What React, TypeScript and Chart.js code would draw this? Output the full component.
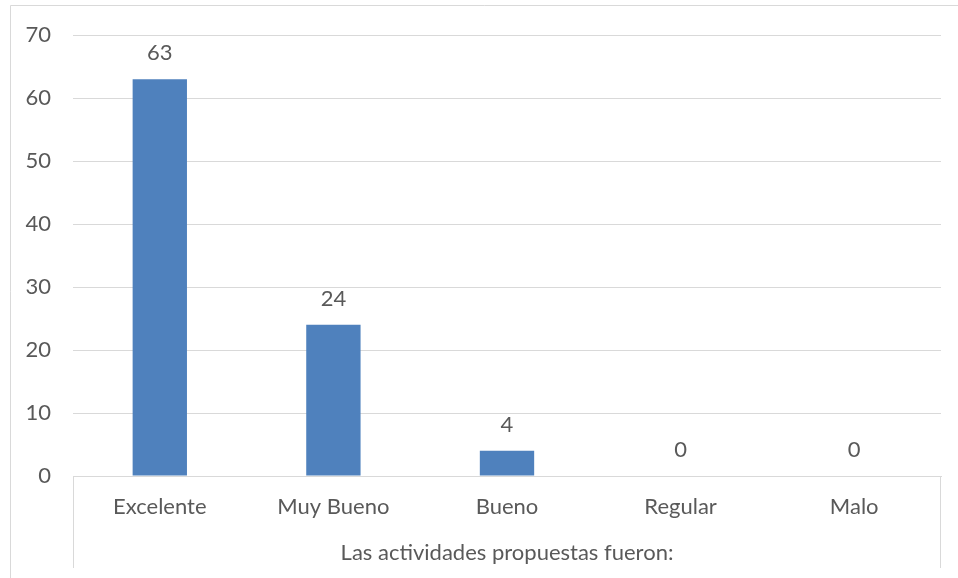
import React, { useEffect, useRef } from "react";
import { Chart, registerables } from "chart.js";

Chart.register(...registerables);

const categories = ["Excelente", "Muy Bueno", "Bueno", "Regular", "Malo"];
const values = [63, 24, 4, 0, 0];
const yTicks = [0, 10, 20, 30, 40, 50, 60, 70];
const axisTitle = "Las actividades propuestas fueron:";

const FONT = "Lato, 'Open Sans', sans-serif";
const TEXT = "#595959";
const GRID = "#D9D9D9";
const SIZE = 22;

const decorPlugin = {
  id: "decor",
  beforeDraw(chart: any) {
    const ctx = chart.ctx;
    ctx.save();
    ctx.strokeStyle = GRID;
    ctx.lineWidth = 1;
    ctx.beginPath();
    ctx.moveTo(10.5, 578);
    ctx.lineTo(10.5, 5.5);
    ctx.lineTo(958, 5.5);
    ctx.stroke();
    const a = chart.chartArea;
    ctx.beginPath();
    ctx.moveTo(Math.round(a.left) + 0.5, a.bottom);
    ctx.lineTo(Math.round(a.left) + 0.5, 568);
    ctx.moveTo(Math.round(a.right) - 0.5, a.bottom);
    ctx.lineTo(Math.round(a.right) - 0.5, 568);
    ctx.stroke();
    ctx.restore();
  },
  afterDatasetsDraw(chart: any) {
    const ctx = chart.ctx;
    const meta = chart.getDatasetMeta(0);
    ctx.save();
    ctx.font = `${SIZE}px ${FONT}`;
    ctx.fillStyle = TEXT;
    ctx.textAlign = "center";
    ctx.textBaseline = "middle";
    meta.data.forEach((el: any, i: number) => {
      ctx.fillText(String(values[i]), el.x, el.y - 26);
    });
    ctx.restore();
  },
};

export default function App() {
  const ref = useRef<HTMLCanvasElement>(null);
  useEffect(() => {
    document.body.style.margin = "0";
    const chart = new Chart(ref.current!, {
      type: "bar",
      data: {
        labels: categories,
        datasets: [
          {
            data: values,
            backgroundColor: "#4F81BD",
            barPercentage: 0.313,
            categoryPercentage: 1,
          },
        ],
      },
      options: {
        animation: false,
        responsive: false,
        layout: { padding: { top: 35, right: 17, bottom: 0, left: 0 } },
        plugins: { legend: { display: false }, tooltip: { enabled: false } },
        scales: {
          x: {
            grid: { display: false, drawTicks: false },
            border: { display: true, color: GRID, width: 1 },
            ticks: { color: TEXT, font: { family: FONT, size: SIZE }, padding: 18 },
            title: {
              display: true,
              text: axisTitle,
              color: TEXT,
              font: { family: FONT, size: SIZE },
              padding: { top: 0, bottom: 12 },
            },
            afterFit(scale: any) {
              scale.height = 102;
            },
          },
          y: {
            min: 0,
            max: 70,
            afterBuildTicks(scale: any) {
              scale.ticks = yTicks.map((v) => ({ value: v }));
            },
            grid: { color: GRID, drawTicks: false },
            border: { display: false },
            ticks: { color: TEXT, font: { family: FONT, size: SIZE }, padding: 22 },
            afterFit(scale: any) {
              scale.width = 73;
            },
          },
        },
      },
      plugins: [decorPlugin],
    });
    return () => chart.destroy();
  }, []);
  return (
    <div style={{ position: "absolute", left: 0, top: 0, width: 958, height: 578 }}>
      <canvas ref={ref} width={958} height={578} />
    </div>
  );
}
